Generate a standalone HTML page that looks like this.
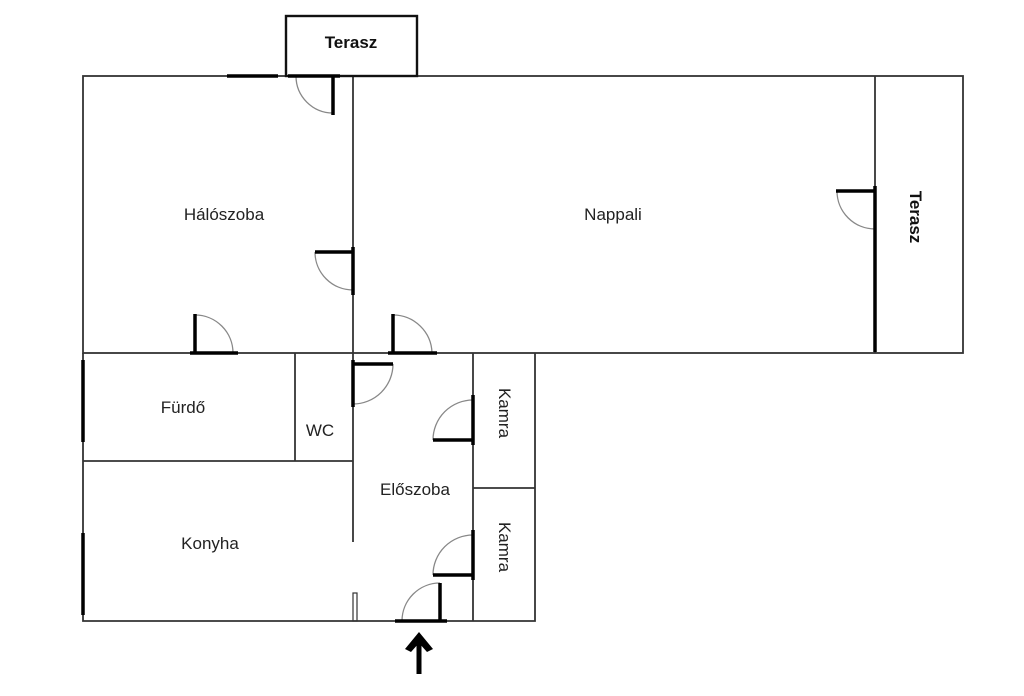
<!DOCTYPE html>
<html><head><meta charset="utf-8"><style>body{margin:0;background:#fff}svg{display:block}</style></head><body>
<svg width="1024" height="696" viewBox="0 0 1024 696" xmlns="http://www.w3.org/2000/svg" font-family="Liberation Sans, sans-serif">
<g stroke="#333" stroke-width="1.8" fill="none">
<rect x="83" y="76" width="880" height="277"/>
<line x1="875" y1="76" x2="875" y2="353"/>
<line x1="353" y1="76" x2="353" y2="542"/>
<polyline points="83,353 83,621 535,621 535,353"/>
<line x1="295" y1="353" x2="295" y2="461"/>
<line x1="83" y1="461" x2="353" y2="461"/>
<line x1="473" y1="353" x2="473" y2="621"/>
<line x1="473" y1="488" x2="535" y2="488"/>
<rect x="353" y="593" width="4" height="28" stroke-width="1.2"/>
</g>
<rect x="286" y="16" width="131" height="60" fill="#fff" stroke="#111" stroke-width="2.4"/>
<g stroke="#888" stroke-width="1.3" fill="none">
<path d="M296,76 A37,37 0 0 0 333,113"/>
<path d="M315,252 A38,38 0 0 0 353,290"/>
<path d="M195,315 A38,38 0 0 1 233,353"/>
<path d="M393,315 A39,39 0 0 1 432,353"/>
<path d="M837,191 A38,38 0 0 0 875,229"/>
<path d="M393,364 A40,40 0 0 1 353,404"/>
<path d="M473,400 A40,40 0 0 0 433,440"/>
<path d="M473,535 A40,40 0 0 0 433,575"/>
<path d="M440,583 A38,38 0 0 0 402,621"/>
</g>
<g stroke="#000" stroke-width="3.5" fill="none">
<line x1="227" y1="76" x2="278" y2="76"/>
<line x1="288" y1="76" x2="340" y2="76"/>
<line x1="333" y1="76" x2="333" y2="115"/>
<line x1="315" y1="252" x2="353" y2="252"/>
<line x1="353" y1="247" x2="353" y2="295"/>
<line x1="195" y1="314" x2="195" y2="353"/>
<line x1="190" y1="353" x2="238" y2="353"/>
<line x1="393" y1="314" x2="393" y2="353"/>
<line x1="388" y1="353" x2="437" y2="353"/>
<line x1="836" y1="191" x2="875" y2="191"/>
<line x1="875" y1="186" x2="875" y2="352"/>
<line x1="353" y1="360" x2="353" y2="407"/>
<line x1="353" y1="364" x2="393" y2="364"/>
<line x1="473" y1="395" x2="473" y2="445"/>
<line x1="433" y1="440" x2="473" y2="440"/>
<line x1="473" y1="530" x2="473" y2="580"/>
<line x1="433" y1="575" x2="473" y2="575"/>
<line x1="395" y1="621" x2="447" y2="621"/>
<line x1="440" y1="583" x2="440" y2="621"/>
<line x1="83" y1="360" x2="83" y2="442"/>
<line x1="83" y1="533" x2="83" y2="615"/>
</g>
<line x1="419" y1="674" x2="419" y2="640" stroke="#000" stroke-width="5"/>
<polygon points="405,649 419,632 433,649 427,652 419,643 411,652" fill="#000"/>
<g font-size="17" fill="#222" text-anchor="middle">
<text x="224" y="220">Hálószoba</text>
<text x="613" y="220">Nappali</text>
<text x="183" y="413">Fürdő</text>
<text x="320" y="436">WC</text>
<text x="415" y="495">Előszoba</text>
<text x="210" y="549">Konyha</text>
<text transform="translate(499,413) rotate(90)">Kamra</text>
<text transform="translate(499,547) rotate(90)">Kamra</text>
</g>
<g font-size="17" font-weight="bold" fill="#111" text-anchor="middle">
<text x="351" y="48">Terasz</text>
<text transform="translate(910,217) rotate(90)">Terasz</text>
</g>
</svg>
</body></html>
